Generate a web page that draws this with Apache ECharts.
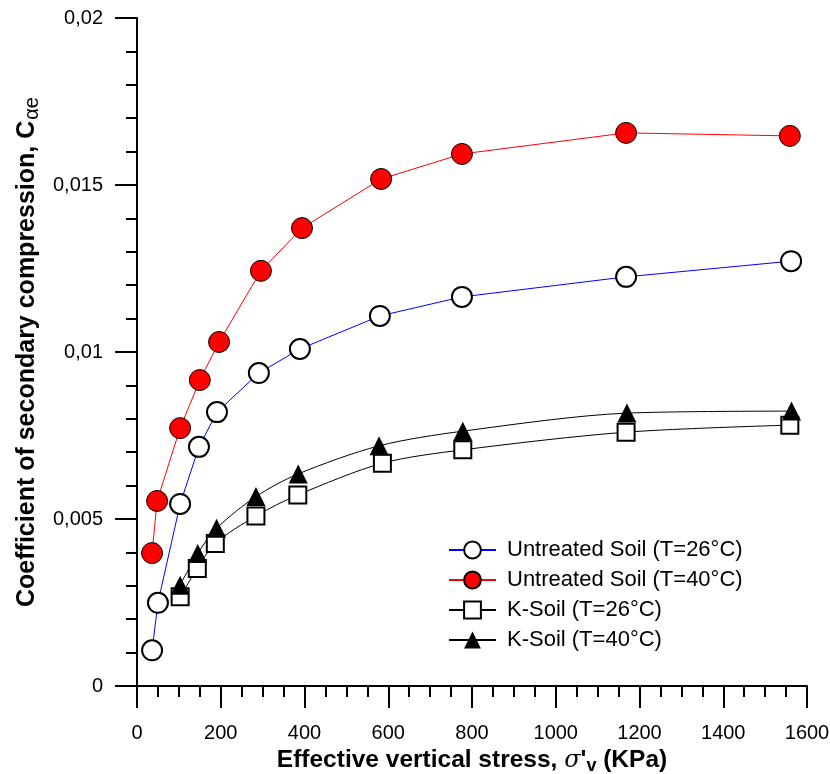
<!DOCTYPE html>
<html>
<head>
<meta charset="utf-8">
<script src="https://cdn.jsdelivr.net/npm/echarts@6/dist/echarts.min.js"></script>
<style>html,body{margin:0;padding:0;background:#fff}#c{width:830px;height:774px}</style>
</head>
<body>
<div id="c"></div>
<script>
const seriesNames = ['Untreated Soil (T=26°C)', 'Untreated Soil (T=40°C)', 'K-Soil (T=26°C)', 'K-Soil (T=40°C)'];
const untreated26X = [36, 50, 103, 148, 191, 291, 389, 580, 776, 1168, 1562];
const untreated26Y = [0.00107, 0.00249, 0.00545, 0.00716, 0.0082, 0.00937, 0.01009, 0.01108, 0.01165, 0.01225, 0.01272];
const untreated40X = [36, 48, 103, 150, 196, 296, 394, 583, 776, 1168, 1559];
const untreated40Y = [0.00398, 0.00554, 0.00772, 0.00916, 0.0103, 0.01243, 0.01371, 0.01518, 0.01593, 0.01656, 0.01647];
const ksoil26X = [103, 144, 187, 284, 384, 586, 778, 1168, 1559];
const ksoil26Y = [0.00267, 0.00352, 0.00427, 0.00509, 0.00572, 0.00667, 0.00707, 0.0076, 0.00781];
const ksoil40X = [103, 145, 190, 284, 385, 578, 778, 1170, 1563];
const ksoil40Y = [0.00302, 0.00397, 0.00472, 0.00567, 0.00635, 0.00719, 0.00763, 0.00817, 0.00823];
const xTicks = {min: 0, max: 1600, step: 200};
const yTicks = {min: 0, max: 0.02, step: 0.005};

const zip = (xs, ys) => xs.map((x, i) => [x, ys[i]]);
const FONT = '"Liberation Sans", Arial, sans-serif';

const chart = echarts.init(document.getElementById('c'), null, {renderer: 'canvas'});
const axisCommon = {
  axisLine: {show: true, onZero: false, lineStyle: {color: '#000', width: 2}},
  axisTick: {show: true, inside: false, length: 22, lineStyle: {color: '#000', width: 2}},
  minorTick: {show: true, length: 11, lineStyle: {color: '#000', width: 2}},
  splitLine: {show: false},
  axisLabel: {color: '#000', fontFamily: FONT, fontSize: 20}
};
chart.setOption({
  animation: false,
  backgroundColor: '#fff',
  grid: {left: 137, right: 23, top: 18, bottom: 88, containLabel: false, outerBoundsMode: 'none'},
  legend: {
    left: 443, top: 534, orient: 'vertical', itemGap: 8,
    itemWidth: 47, itemHeight: 21,
    textStyle: {fontFamily: FONT, fontSize: 22, lineHeight: 21, color: '#000', padding: [0, 0, 0, 6]},
    data: seriesNames
  },
  xAxis: Object.assign({}, axisCommon, {
    type: 'value', min: xTicks.min, max: xTicks.max, interval: xTicks.step,
    minorTick: Object.assign({}, axisCommon.minorTick, {splitNumber: 4}),
    axisLabel: Object.assign({}, axisCommon.axisLabel, {margin: 37, formatter: v => String(v)}),
    name: '{b|Effective vertical stress, }{s|σ}{b|\'}{v|v}{b| (KPa)}',
    nameLocation: 'middle', nameGap: 59,
    nameTextStyle: {
      rich: {
        b: {fontFamily: FONT, fontWeight: 'bold', fontSize: 24.5, color: '#000'},
        s: {fontFamily: '"DejaVu Serif", serif', fontStyle: 'italic', fontSize: 24, color: '#000'},
        v: {fontFamily: FONT, fontWeight: 'bold', fontSize: 18, color: '#000', padding: [12, 0, 0, 0]}
      }
    }
  }),
  yAxis: Object.assign({}, axisCommon, {
    type: 'value', min: yTicks.min, max: yTicks.max, interval: yTicks.step,
    minorTick: Object.assign({}, axisCommon.minorTick, {splitNumber: 5}),
    axisLabel: Object.assign({}, axisCommon.axisLabel, {
      margin: 34,
      formatter: v => String(+v.toFixed(4)).replace('.', ',')
    }),
    name: '{b|Coefficient of secondary compression, C}{a|αe}',
    nameLocation: 'middle', nameGap: 94, nameRotate: 90,
    nameTextStyle: {
      rich: {
        b: {fontFamily: FONT, fontWeight: 'bold', fontSize: 25, color: '#000'},
        a: {fontFamily: FONT, fontSize: 20, color: '#000', padding: [9, 0, 0, 1]}
      }
    }
  }),
  series: [
    {
      name: seriesNames[0], type: 'line', data: zip(untreated26X, untreated26Y),
      symbol: 'circle', symbolSize: 20,
      lineStyle: {color: '#0000ff', width: 1},
      itemStyle: {color: '#fff', borderColor: '#000', borderWidth: 2},
      z: 3
    },
    {
      name: seriesNames[1], type: 'line', data: zip(untreated40X, untreated40Y),
      symbol: 'circle', symbolSize: 21,
      lineStyle: {color: '#ff0000', width: 1},
      itemStyle: {color: '#ff0000', borderColor: '#000', borderWidth: 1},
      z: 3
    },
    {
      name: seriesNames[2], type: 'line', data: zip(ksoil26X, ksoil26Y),
      symbol: 'rect', symbolSize: 17, smooth: 0.3,
      lineStyle: {color: '#000', width: 1},
      itemStyle: {color: '#fff', borderColor: '#000', borderWidth: 2},
      z: 3
    },
    {
      name: seriesNames[3], type: 'line', data: zip(ksoil40X, ksoil40Y),
      symbol: 'triangle', symbolSize: 19, smooth: 0.3,
      lineStyle: {color: '#000', width: 1},
      itemStyle: {color: '#000', borderColor: '#000', borderWidth: 0},
      z: 3
    }
  ]
});
</script>
</body>
</html>
